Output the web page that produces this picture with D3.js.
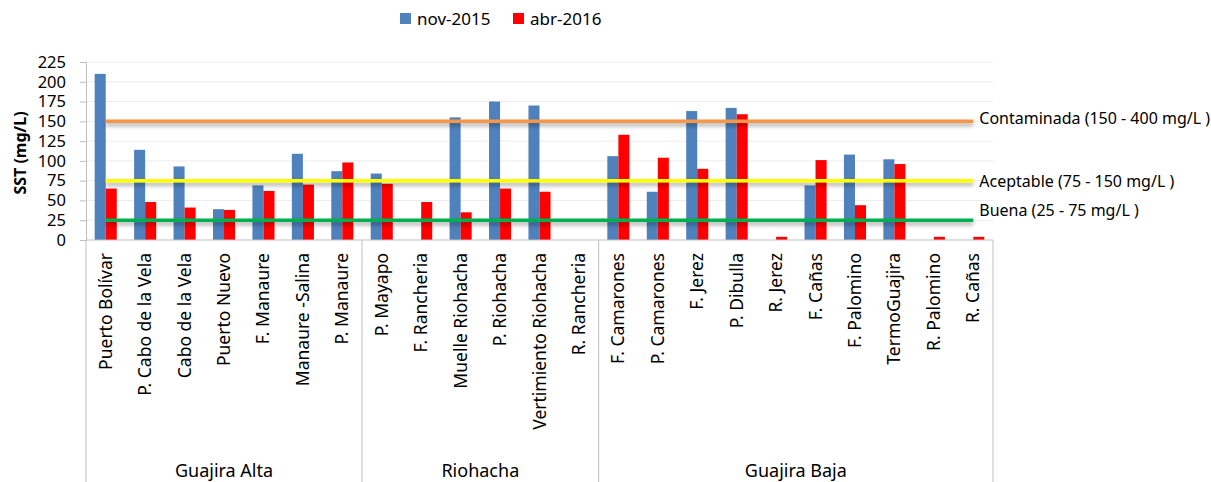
<!DOCTYPE html>
<html>
<head>
<meta charset="utf-8">
<script src="https://cdn.jsdelivr.net/npm/d3@7"></script>
<style>
  body { margin: 0; background: #fff; }
  svg { display: block; font-family: "Noto Sans", sans-serif; }
</style>
</head>
<body>
<div id="chart"></div>
<script>
var width = 1211,
    height = 482;

// data
var categories = ["Puerto Bolívar", "P. Cabo de la Vela", "Cabo de la Vela", "Puerto Nuevo", "F. Manaure",
    "Manaure -Salina", "P. Manaure", "P. Mayapo", "F. Rancheria", "Muelle Riohacha", "P. Riohacha",
    "Vertimiento Riohacha", "R. Rancheria", "F. Camarones", "P. Camarones", "F. Jerez", "P. Dibulla",
    "R. Jerez", "F. Cañas", "F. Palomino", "TermoGuajira", "R. Palomino", "R. Cañas"];
var groups = ["Guajira Alta", "Riohacha", "Guajira Baja"];
var groupSizes = [7, 6, 10];
var series = ["nov-2015", "abr-2016"];
var nov2015 = [210, 114, 93, 39, 69, 109, 87, 84, null, 155, 175, 170, null, 106, 61, 163, 167, null, 69, 108, 102, null, null];
var abr2016 = [65, 48, 41, 38, 62, 70, 98, 71, 48, 35, 65, 61, null, 133, 104, 90, 159, 4, 101, 44, 96, 4, 4];
var limits = [150, 75, 25];
var limitLabels = ["Contaminada (150 - 400 mg/L )", "Aceptable (75 - 150 mg/L )", "Buena (25 - 75 mg/L )"];
var yTicks = [0, 25, 50, 75, 100, 125, 150, 175, 200, 225];

var colors = { "nov-2015": "#4F81BD", "abr-2016": "#FF0000" };
var limitColors = ["#F79646", "#FFFF00", "#00B050"];
var labelDy = [3, 6, -4];

var margin = { left: 86, right: 218, top: 62, axis: 240 };

var svg = d3.select("#chart").append("svg")
    .attr("width", width)
    .attr("height", height);

var defs = svg.append("defs");
defs.append("filter")
    .attr("id", "shadow")
    .attr("filterUnits", "userSpaceOnUse")
    .attr("x", 0).attr("y", 0)
    .attr("width", width).attr("height", height)
    .append("feDropShadow")
    .attr("dx", 0).attr("dy", 3)
    .attr("stdDeviation", 2)
    .attr("flood-color", "#000")
    .attr("flood-opacity", 0.35);

var x = d3.scaleBand()
    .domain(categories)
    .range([margin.left, width - margin.right])
    .paddingInner(0.44)
    .paddingOuter(0.22);

var xs = d3.scaleBand()
    .domain(series)
    .range([0, x.bandwidth()]);

var y = d3.scaleLinear()
    .domain([0, 225])
    .range([margin.axis, margin.top]);

// gridlines
svg.append("g")
    .selectAll("line")
    .data(yTicks.slice(1))
    .join("line")
    .attr("x1", margin.left)
    .attr("x2", width - margin.right)
    .attr("y1", d => y(d))
    .attr("y2", d => y(d))
    .attr("stroke", "#ececec")
    .attr("stroke-width", 1);

// y axis
var yAxis = svg.append("g")
    .attr("transform", `translate(${margin.left},0)`)
    .call(d3.axisLeft(y).tickValues(yTicks).tickSize(6).tickPadding(14));
yAxis.select(".domain").attr("stroke", "#bfbfbf");
yAxis.selectAll(".tick line").attr("stroke", "#bfbfbf");
yAxis.selectAll(".tick text")
    .attr("font-size", 16.5)
    .attr("font-family", "Noto Sans")
    .attr("fill", "#000");

svg.append("text")
    .attr("transform", `translate(26,${(margin.top + margin.axis) / 2 + 2}) rotate(-90)`)
    .attr("text-anchor", "middle")
    .attr("font-size", 16)
    .attr("font-weight", "bold")
    .text("SST (mg/L)");

// bars
var rows = categories.map((c, i) => ({ cat: c, values: [nov2015[i], abr2016[i]] }));

svg.append("g")
    .selectAll("g")
    .data(rows)
    .join("g")
    .attr("transform", d => `translate(${x(d.cat)},0)`)
    .selectAll("rect")
    .data(d => series.map((s, j) => ({ key: s, value: d.values[j] })).filter(v => v.value != null))
    .join("rect")
    .attr("x", d => xs(d.key))
    .attr("width", xs.bandwidth())
    .attr("y", d => y(d.value))
    .attr("height", d => y(0) - y(d.value))
    .attr("fill", d => colors[d.key]);

// x axis line
svg.append("line")
    .attr("x1", margin.left)
    .attr("x2", width - margin.right)
    .attr("y1", y(0))
    .attr("y2", y(0))
    .attr("stroke", "#bfbfbf");

// group separators
var bounds = [0];
groupSizes.forEach(n => bounds.push(bounds[bounds.length - 1] + n));
var edge = i => i < categories.length ? x(categories[i]) - x.paddingInner() * x.step() / 2 : x.range()[1];

svg.append("g")
    .selectAll("line")
    .data(bounds)
    .join("line")
    .attr("x1", d => edge(d))
    .attr("x2", d => edge(d))
    .attr("y1", y(0))
    .attr("y2", height)
    .attr("stroke", "#bfbfbf");

// category labels
svg.append("g")
    .selectAll("text")
    .data(categories)
    .join("text")
    .attr("transform", d => `translate(${x(d) + x.bandwidth() / 2 + 6},${y(0) + 13}) rotate(-90)`)
    .attr("text-anchor", "end")
    .attr("font-size", 17.5)
    .text(d => d);

// group labels
svg.append("g")
    .selectAll("text")
    .data(groups)
    .join("text")
    .attr("x", (d, i) => (edge(bounds[i]) + edge(bounds[i + 1])) / 2)
    .attr("y", 477)
    .attr("text-anchor", "middle")
    .attr("font-size", 18)
    .text(d => d);

// limit lines
var x0 = x(categories[0]) + x.bandwidth() / 2,
    x1 = x(categories[categories.length - 1]) + x.bandwidth() / 2;

svg.append("g")
    .selectAll("line")
    .data(limits)
    .join("line")
    .attr("x1", x0)
    .attr("x2", x1)
    .attr("y1", d => y(d))
    .attr("y2", d => y(d))
    .attr("stroke", (d, i) => limitColors[i])
    .attr("stroke-width", 3.5)
    .attr("filter", "url(#shadow)");

svg.append("g")
    .selectAll("text")
    .data(limits)
    .join("text")
    .attr("x", x1 + 6)
    .attr("y", (d, i) => y(d) + labelDy[i])
    .attr("font-size", 16)
    .text((d, i) => limitLabels[i]);

// legend
var legend = svg.append("g")
    .selectAll("g")
    .data(series)
    .join("g")
    .attr("transform", (d, i) => `translate(${400 + i * 113},13)`);

legend.append("rect")
    .attr("width", 11)
    .attr("height", 11)
    .attr("fill", d => colors[d]);

legend.append("text")
    .attr("x", 17)
    .attr("y", 11.5)
    .attr("font-size", 17)
    .text(d => d);
</script>
</body>
</html>
